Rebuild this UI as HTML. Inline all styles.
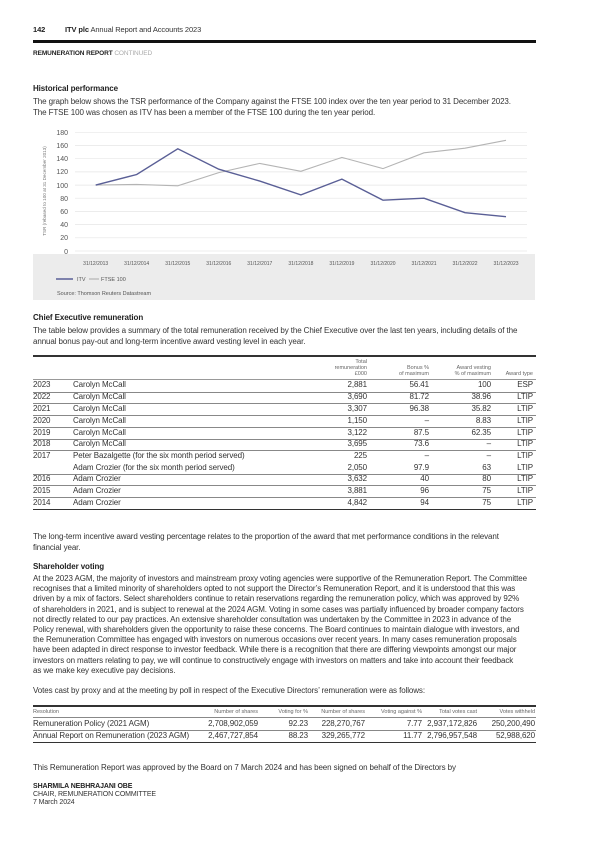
<!DOCTYPE html>
<html><head><meta charset="utf-8"><style>
body{margin:0;background:#fff;}
#p{position:relative;width:600px;height:848px;overflow:hidden;font-family:"Liberation Sans",sans-serif;color:#333;}
.t{position:absolute;white-space:nowrap;font-size:8px;letter-spacing:-0.1px;line-height:10px;}
.b{font-weight:bold;color:#222;}
.r{text-align:right;}
.h{position:absolute;left:33px;width:503px;}
.s{font-size:5.5px;letter-spacing:0;color:#666;line-height:6.3px;}
</style></head><body><div id="p">
<div class="t b" style="left:33px;top:25px;font-size:7.5px">142</div>
<div class="t" style="left:65px;top:25px;font-size:7.5px"><b style="color:#222">ITV plc</b> Annual Report and Accounts 2023</div>
<div class="h" style="top:40px;height:3px;background:#111"></div>
<div class="t b" style="left:33px;top:49px;font-size:6.5px">REMUNERATION REPORT <span style="color:#aaa;font-weight:normal">CONTINUED</span></div>

<div class="t b" style="left:33px;top:84px">Historical performance</div>
<div class="t" style="left:33px;top:97px">The graph below shows the TSR performance of the Company against the FTSE 100 index over the ten year period to 31 December 2023.</div>
<div class="t" style="left:33px;top:108px">The FTSE 100 was chosen as ITV has been a member of the FTSE 100 during the ten year period.</div>

<svg style="position:absolute;left:0;top:0" width="600" height="310" font-family="Liberation Sans, sans-serif">
<rect x="33" y="254" width="502" height="46" fill="#ececec"/>
<g stroke="#e6e6e6" stroke-width="0.7">
<line x1="75" x2="527" y1="132.3" y2="132.3"/><line x1="75" x2="527" y1="145.5" y2="145.5"/><line x1="75" x2="527" y1="158.7" y2="158.7"/><line x1="75" x2="527" y1="171.9" y2="171.9"/><line x1="75" x2="527" y1="185.1" y2="185.1"/><line x1="75" x2="527" y1="198.2" y2="198.2"/><line x1="75" x2="527" y1="211.4" y2="211.4"/><line x1="75" x2="527" y1="224.6" y2="224.6"/><line x1="75" x2="527" y1="237.8" y2="237.8"/><line x1="75" x2="527" y1="251" y2="251"/>
</g>
<g font-size="7" fill="#555" text-anchor="end">
<text x="68" y="135">180</text><text x="68" y="148">160</text><text x="68" y="161">140</text><text x="68" y="174">120</text><text x="68" y="188">100</text><text x="68" y="201">80</text><text x="68" y="214">60</text><text x="68" y="227">40</text><text x="68" y="240">20</text><text x="68" y="254">0</text>
</g>
<text transform="translate(46,191) rotate(-90)" font-size="4.6" fill="#777" text-anchor="middle">TSR (rebased to 100 at 31 December 2013)</text>
<polyline fill="none" stroke="#b4b4b4" stroke-width="1.1" points="95.7,185.1 136.7,184.4 177.8,185.8 218.8,172.6 259.8,163.4 300.9,171.3 341.9,157.4 383,168.6 424,152.8 465,148.2 506,140.3"/>
<polyline fill="none" stroke="#5a5f96" stroke-width="1.4" points="95.7,185.1 136.7,174.5 177.8,148.8 218.8,169.2 259.8,181.1 300.9,194.9 341.9,179.1 383,200.2 424,198.2 465,212.7 506,216.7"/>
<g font-size="5" fill="#555" text-anchor="middle">
<text x="95.7" y="265">31/12/2013</text><text x="136.7" y="265">31/12/2014</text><text x="177.8" y="265">31/12/2015</text><text x="218.8" y="265">31/12/2016</text><text x="259.8" y="265">31/12/2017</text><text x="300.9" y="265">31/12/2018</text><text x="341.9" y="265">31/12/2019</text><text x="383" y="265">31/12/2020</text><text x="424" y="265">31/12/2021</text><text x="465" y="265">31/12/2022</text><text x="506" y="265">31/12/2023</text>
</g>
<line x1="56" x2="73" y1="279" y2="279" stroke="#5a5f96" stroke-width="1.5"/>
<text x="77" y="281" font-size="5.5" fill="#555">ITV</text>
<line x1="89" x2="99" y1="279" y2="279" stroke="#b4b4b4" stroke-width="1.2"/>
<text x="101" y="281" font-size="5.5" fill="#555">FTSE 100</text>
<text x="57" y="295" font-size="5.5" fill="#555">Source: Thomson Reuters Datastream</text>
</svg>

<div class="t b" style="left:33px;top:313px">Chief Executive remuneration</div>
<div class="t" style="left:33px;top:326px">The table below provides a summary of the total remuneration received by the Chief Executive over the last ten years, including details of the</div>
<div class="t" style="left:33px;top:337px">annual bonus pay-out and long-term incentive award vesting level in each year.</div>

<div class="h" style="top:355px;height:1.5px;background:#333"></div>
<div class="t s r" style="left:300px;width:67px;top:358.5px">Total<br>remuneration<br>£000</div>
<div class="t s r" style="left:370px;width:59px;top:364.8px">Bonus %<br>of maximum</div>
<div class="t s r" style="left:430px;width:61px;top:364.8px">Award vesting<br>% of maximum</div>
<div class="t s r" style="left:493px;width:40px;top:371px">Award type</div>
<div class="h" style="top:379px;height:1px;background:#999"></div>

<div style="position:absolute;left:0;top:0">
<div class="t" style="left:33px;top:380px">2023</div><div class="t" style="left:73px;top:380px">Carolyn McCall</div><div class="t r" style="left:300px;width:67px;top:380px">2,881</div><div class="t r" style="left:370px;width:59px;top:380px">56.41</div><div class="t r" style="left:430px;width:61px;top:380px">100</div><div class="t r" style="left:493px;width:40px;top:380px">ESP</div>
<div class="h" style="top:391.5px;height:0.8px;background:#888"></div>
<div class="t" style="left:33px;top:392px">2022</div><div class="t" style="left:73px;top:392px">Carolyn McCall</div><div class="t r" style="left:300px;width:67px;top:392px">3,690</div><div class="t r" style="left:370px;width:59px;top:392px">81.72</div><div class="t r" style="left:430px;width:61px;top:392px">38.96</div><div class="t r" style="left:493px;width:40px;top:392px">LTIP</div>
<div class="h" style="top:403px;height:0.8px;background:#888"></div>
<div class="t" style="left:33px;top:404px">2021</div><div class="t" style="left:73px;top:404px">Carolyn McCall</div><div class="t r" style="left:300px;width:67px;top:404px">3,307</div><div class="t r" style="left:370px;width:59px;top:404px">96.38</div><div class="t r" style="left:430px;width:61px;top:404px">35.82</div><div class="t r" style="left:493px;width:40px;top:404px">LTIP</div>
<div class="h" style="top:415px;height:0.8px;background:#888"></div>
<div class="t" style="left:33px;top:416px">2020</div><div class="t" style="left:73px;top:416px">Carolyn McCall</div><div class="t r" style="left:300px;width:67px;top:416px">1,150</div><div class="t r" style="left:370px;width:59px;top:416px">–</div><div class="t r" style="left:430px;width:61px;top:416px">8.83</div><div class="t r" style="left:493px;width:40px;top:416px">LTIP</div>
<div class="h" style="top:427px;height:0.8px;background:#888"></div>
<div class="t" style="left:33px;top:427.5px">2019</div><div class="t" style="left:73px;top:427.5px">Carolyn McCall</div><div class="t r" style="left:300px;width:67px;top:427.5px">3,122</div><div class="t r" style="left:370px;width:59px;top:427.5px">87.5</div><div class="t r" style="left:430px;width:61px;top:427.5px">62.35</div><div class="t r" style="left:493px;width:40px;top:427.5px">LTIP</div>
<div class="h" style="top:438.5px;height:0.8px;background:#888"></div>
<div class="t" style="left:33px;top:439px">2018</div><div class="t" style="left:73px;top:439px">Carolyn McCall</div><div class="t r" style="left:300px;width:67px;top:439px">3,695</div><div class="t r" style="left:370px;width:59px;top:439px">73.6</div><div class="t r" style="left:430px;width:61px;top:439px">–</div><div class="t r" style="left:493px;width:40px;top:439px">LTIP</div>
<div class="h" style="top:450px;height:0.8px;background:#888"></div>
<div class="t" style="left:33px;top:451px">2017</div><div class="t" style="left:73px;top:451px">Peter Bazalgette (for the six month period served)</div><div class="t r" style="left:300px;width:67px;top:451px">225</div><div class="t r" style="left:370px;width:59px;top:451px">–</div><div class="t r" style="left:430px;width:61px;top:451px">–</div><div class="t r" style="left:493px;width:40px;top:451px">LTIP</div>
<div class="t" style="left:73px;top:462.5px">Adam Crozier (for the six month period served)</div><div class="t r" style="left:300px;width:67px;top:462.5px">2,050</div><div class="t r" style="left:370px;width:59px;top:462.5px">97.9</div><div class="t r" style="left:430px;width:61px;top:462.5px">63</div><div class="t r" style="left:493px;width:40px;top:462.5px">LTIP</div>
<div class="h" style="top:473.5px;height:0.8px;background:#888"></div>
<div class="t" style="left:33px;top:474px">2016</div><div class="t" style="left:73px;top:474px">Adam Crozier</div><div class="t r" style="left:300px;width:67px;top:474px">3,632</div><div class="t r" style="left:370px;width:59px;top:474px">40</div><div class="t r" style="left:430px;width:61px;top:474px">80</div><div class="t r" style="left:493px;width:40px;top:474px">LTIP</div>
<div class="h" style="top:485px;height:0.8px;background:#888"></div>
<div class="t" style="left:33px;top:486px">2015</div><div class="t" style="left:73px;top:486px">Adam Crozier</div><div class="t r" style="left:300px;width:67px;top:486px">3,881</div><div class="t r" style="left:370px;width:59px;top:486px">96</div><div class="t r" style="left:430px;width:61px;top:486px">75</div><div class="t r" style="left:493px;width:40px;top:486px">LTIP</div>
<div class="h" style="top:497px;height:0.8px;background:#888"></div>
<div class="t" style="left:33px;top:498px">2014</div><div class="t" style="left:73px;top:498px">Adam Crozier</div><div class="t r" style="left:300px;width:67px;top:498px">4,842</div><div class="t r" style="left:370px;width:59px;top:498px">94</div><div class="t r" style="left:430px;width:61px;top:498px">75</div><div class="t r" style="left:493px;width:40px;top:498px">LTIP</div>
<div class="h" style="top:508.5px;height:1.5px;background:#333"></div>
</div>

<div class="t" style="left:33px;top:532px">The long-term incentive award vesting percentage relates to the proportion of the award that met performance conditions in the relevant</div>
<div class="t" style="left:33px;top:543px">financial year.</div>
<div class="t b" style="left:33px;top:562px">Shareholder voting</div>
<div class="t" style="left:33px;top:574px">At the 2023 AGM, the majority of investors and mainstream proxy voting agencies were supportive of the Remuneration Report. The Committee</div>
<div class="t" style="left:33px;top:584.2px">recognises that a limited minority of shareholders opted to not support the Director’s Remuneration Report, and it is understood that this was</div>
<div class="t" style="left:33px;top:594.4px">driven by a mix of factors. Select shareholders continue to retain reservations regarding the remuneration policy, which was approved by 92%</div>
<div class="t" style="left:33px;top:604.6px">of shareholders in 2021, and is subject to renewal at the 2024 AGM. Voting in some cases was partially influenced by broader company factors</div>
<div class="t" style="left:33px;top:614.8px">not directly related to our pay practices. An extensive shareholder consultation was undertaken by the Committee in 2023 in advance of the</div>
<div class="t" style="left:33px;top:625px">Policy renewal, with shareholders given the opportunity to raise these concerns. The Board continues to maintain dialogue with investors, and</div>
<div class="t" style="left:33px;top:635.2px">the Remuneration Committee has engaged with investors on numerous occasions over recent years. In many cases remuneration proposals</div>
<div class="t" style="left:33px;top:645.4px">have been adapted in direct response to investor feedback. While there is a recognition that there are differing viewpoints amongst our major</div>
<div class="t" style="left:33px;top:655.6px">investors on matters relating to pay, we will continue to constructively engage with investors on matters and take into account their feedback</div>
<div class="t" style="left:33px;top:665.8px">as we make key executive pay decisions.</div>
<div class="t" style="left:33px;top:686px">Votes cast by proxy and at the meeting by poll in respect of the Executive Directors’ remuneration were as follows:</div>

<div class="h" style="top:705px;height:1.5px;background:#333"></div>
<div class="t s" style="left:33px;top:709px">Resolution</div>
<div class="t s r" style="left:180px;width:78px;top:709px">Number of shares</div>
<div class="t s r" style="left:260px;width:48px;top:709px">Voting for %</div>
<div class="t s r" style="left:310px;width:55px;top:709px">Number of shares</div>
<div class="t s r" style="left:367px;width:55px;top:709px">Voting against %</div>
<div class="t s r" style="left:424px;width:53px;top:709px">Total votes cast</div>
<div class="t s r" style="left:480px;width:55px;top:709px">Votes withheld</div>
<div class="h" style="top:717px;height:0.8px;background:#888"></div>
<div class="t" style="left:33px;top:719px">Remuneration Policy (2021 AGM)</div>
<div class="t r" style="left:180px;width:78px;top:719px">2,708,902,059</div>
<div class="t r" style="left:260px;width:48px;top:719px">92.23</div>
<div class="t r" style="left:310px;width:55px;top:719px">228,270,767</div>
<div class="t r" style="left:367px;width:55px;top:719px">7.77</div>
<div class="t r" style="left:424px;width:53px;top:719px">2,937,172,826</div>
<div class="t r" style="left:480px;width:55px;top:719px">250,200,490</div>
<div class="h" style="top:730px;height:0.8px;background:#888"></div>
<div class="t" style="left:33px;top:731px">Annual Report on Remuneration (2023 AGM)</div>
<div class="t r" style="left:180px;width:78px;top:731px">2,467,727,854</div>
<div class="t r" style="left:260px;width:48px;top:731px">88.23</div>
<div class="t r" style="left:310px;width:55px;top:731px">329,265,772</div>
<div class="t r" style="left:367px;width:55px;top:731px">11.77</div>
<div class="t r" style="left:424px;width:53px;top:731px">2,796,957,548</div>
<div class="t r" style="left:480px;width:55px;top:731px">52,988,620</div>
<div class="h" style="top:741.5px;height:1.5px;background:#333"></div>

<div class="t" style="left:33px;top:763px">This Remuneration Report was approved by the Board on 7 March 2024 and has been signed on behalf of the Directors by</div>
<div class="t b" style="left:33px;top:782px;font-size:7px">SHARMILA NEBHRAJANI OBE</div>
<div class="t" style="left:33px;top:790px;font-size:7px">CHAIR, REMUNERATION COMMITTEE</div>
<div class="t" style="left:33px;top:798px;font-size:7px">7 March 2024</div>
</div></body></html>
